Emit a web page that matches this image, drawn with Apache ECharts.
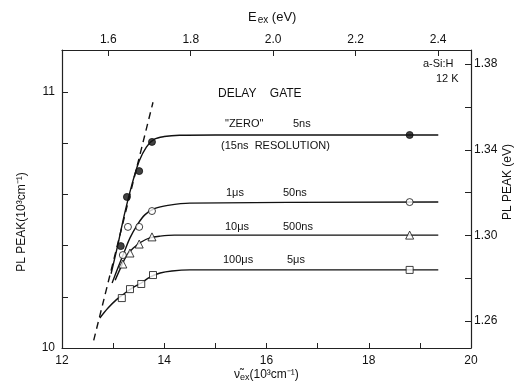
<!DOCTYPE html>
<html><head><meta charset="utf-8">
<script src="https://cdn.jsdelivr.net/npm/echarts@6/dist/echarts.min.js"></script>
<style>html,body{margin:0;padding:0;background:#fff}#c{width:518px;height:386px}</style>
</head><body><div id="c"></div>
<script>
// ---- data (x in 10^3 cm^-1, y in 10^3 cm^-1) ----
const xTicks = [12, 13, 14, 15, 16, 17, 18, 19, 20];
const xLabels = [12, 14, 16, 18, 20];
const topLabels = [1.6, 1.8, 2.0, 2.2, 2.4];
const leftLabels = [10, 11];
const rightTicks = [1.26, 1.28, 1.30, 1.32, 1.34, 1.36, 1.38];
const rightLabels = [1.26, 1.30, 1.34, 1.38];

const zeroPts = [[13.15, 10.398], [13.27, 10.590], [13.51, 10.691], [13.76, 10.805], [18.8, 10.832]];
const onePts = [[13.19, 10.363], [13.29, 10.473], [13.51, 10.473], [13.76, 10.535], [18.8, 10.570]];
const tenPts = [[13.19, 10.328], [13.33, 10.371], [13.51, 10.406], [13.76, 10.434], [18.8, 10.441]];
const hundredPts = [[13.17, 10.195], [13.33, 10.230], [13.55, 10.250], [13.78, 10.285], [18.8, 10.305]];

const zeroCurve = [[12.96, 10.29], [13.10, 10.41], [13.23, 10.53], [13.37, 10.64], [13.51, 10.73], [13.65, 10.785], [13.80, 10.815], [14.0, 10.826], [14.3, 10.831], [15.0, 10.832], [19.36, 10.832]];
const oneCurve = [[12.98, 10.254], [13.10, 10.316], [13.21, 10.371], [13.33, 10.43], [13.47, 10.48], [13.62, 10.52], [13.82, 10.545], [14.07, 10.557], [14.5, 10.566], [19.36, 10.570]];
const tenCurve = [[13.04, 10.265], [13.14, 10.31], [13.26, 10.36], [13.39, 10.39], [13.55, 10.414], [13.72, 10.43], [13.92, 10.437], [14.2, 10.441], [19.36, 10.441]];
const hundredCurve = [[12.74, 10.117], [12.90, 10.156], [13.06, 10.188], [13.21, 10.211], [13.37, 10.234], [13.55, 10.254], [13.72, 10.277], [13.92, 10.293], [14.15, 10.301], [14.5, 10.305], [19.36, 10.305]];
const dashed = [[12.62, 10.03], [13.78, 10.96]];

const EV_PER_KCM = 1 / 8.0655;
const RIGHT_MIN = 1.2474, RIGHT_MAX = 1.3866;

const font = 'Liberation Sans, Arial, sans-serif';
const chart = echarts.init(document.getElementById('c'), null, {renderer: 'canvas'});
const axisLine = {show: true, lineStyle: {color: '#222', width: 1.2}};
const lbl = {color: '#111', fontFamily: font, fontSize: 12};

function lineSeries(d, dash) {
  return {type: 'line', data: d, showSymbol: false, smooth: 0.35, silent: true,
    lineStyle: {color: '#111', width: 1.4, type: dash ? [7, 5] : 'solid'}, z: 2};
}
function scat(d, sym, fill) {
  return {type: 'scatter', data: d, symbol: sym, symbolSize: sym === 'triangle' ? 8 : 7,
    itemStyle: {color: fill ? '#111' : '#fff', borderColor: '#111', borderWidth: 1}, z: 5};
}

chart.setOption({
  animation: false,
  grid: {left: 62, right: 47, top: 50, bottom: 38},
  xAxis: [{
    type: 'value', position: 'bottom', min: 12, max: 20, interval: 1,
    axisLine, splitLine: {show: false},
    axisTick: {inside: true, length: 5, lineStyle: {color: '#222'}},
    axisLabel: Object.assign({}, lbl, {margin: 7, formatter: v => xLabels.includes(v) ? String(v) : ''})
  }, {
    type: 'value', position: 'top', min: 12 * EV_PER_KCM, max: 20 * EV_PER_KCM,
    axisLine, splitLine: {show: false},
    axisTick: {inside: true, length: 6, customValues: topLabels, lineStyle: {color: '#222'}},
    axisLabel: Object.assign({}, lbl, {margin: 4, customValues: topLabels, formatter: v => v.toFixed(1)})
  }],
  yAxis: [{
    type: 'value', position: 'left', min: 10, max: 11.164, interval: 0.2,
    axisLine, splitLine: {show: false},
    axisTick: {inside: true, length: 6, lineStyle: {color: '#222'}},
    axisLabel: Object.assign({}, lbl, {margin: 7, showMaxLabel: false,
      formatter: v => leftLabels.some(l => Math.abs(l - v) < 1e-6) ? String(Math.round(v)) : ''})
  }, {
    type: 'value', position: 'right', min: RIGHT_MIN, max: RIGHT_MAX,
    axisLine, splitLine: {show: false},
    axisTick: {inside: true, length: 6, customValues: rightTicks, lineStyle: {color: '#222'}},
    axisLabel: Object.assign({}, lbl, {margin: 3, customValues: rightLabels, formatter: v => v.toFixed(2)})
  }],
  series: [
    lineSeries(dashed, true),
    lineSeries(zeroCurve), lineSeries(oneCurve), lineSeries(tenCurve), lineSeries(hundredCurve),
    scat(zeroPts, 'circle', true), scat(onePts, 'circle', false),
    scat(tenPts, 'triangle', false), scat(hundredPts, 'rect', false)
  ],
  graphic: [
    {type: 'text', left: 248, top: 11, style: {text: '{m|E}{s|ex}{m| (eV)}', rich: {m: {fontSize: 13, fontFamily: font, fill: '#111'}, s: {fontSize: 10, fontFamily: font, fill: '#111', padding: [6, 0, 0, 1]}}}},
    {type: 'text', x: 22, y: 222, rotation: Math.PI / 2, style: {text: 'PL PEAK(10³cm⁻¹)', font: '12px ' + font, fill: '#111', align: 'center', verticalAlign: 'middle'}},
    {type: 'text', x: 508, y: 182, rotation: Math.PI / 2, style: {text: 'PL PEAK (eV)', font: '12px ' + font, fill: '#111', align: 'center', verticalAlign: 'middle'}},
    {type: 'text', left: 234, top: 369, style: {text: '{m|ν̃}{s|ex}{m|(10³cm⁻¹)}', rich: {m: {fontSize: 12, fontFamily: font, fill: '#111'}, s: {fontSize: 9, fontFamily: font, fill: '#111', padding: [6, 0, 0, 0]}}}},
    {type: 'text', left: 218, top: 88, style: {text: 'DELAY    GATE', font: '12px ' + font, fill: '#111'}},
    {type: 'text', left: 225, top: 118, style: {text: '"ZERO"', font: '11px ' + font, fill: '#111'}},
    {type: 'text', left: 293, top: 118, style: {text: '5ns', font: '11px ' + font, fill: '#111'}},
    {type: 'text', left: 221, top: 140, style: {text: '(15ns  RESOLUTION)', font: '11px ' + font, fill: '#111'}},
    {type: 'text', left: 226, top: 187, style: {text: '1μs', font: '11px ' + font, fill: '#111'}},
    {type: 'text', left: 283, top: 187, style: {text: '50ns', font: '11px ' + font, fill: '#111'}},
    {type: 'text', left: 225, top: 221, style: {text: '10μs', font: '11px ' + font, fill: '#111'}},
    {type: 'text', left: 283, top: 221, style: {text: '500ns', font: '11px ' + font, fill: '#111'}},
    {type: 'text', left: 223, top: 254, style: {text: '100μs', font: '11px ' + font, fill: '#111'}},
    {type: 'text', left: 287, top: 254, style: {text: '5μs', font: '11px ' + font, fill: '#111'}},
    {type: 'text', left: 423, top: 58, style: {text: 'a-Si:H', font: '11px ' + font, fill: '#111'}},
    {type: 'text', left: 436, top: 73, style: {text: '12 K', font: '11px ' + font, fill: '#111'}}
  ]
});
</script></body></html>
